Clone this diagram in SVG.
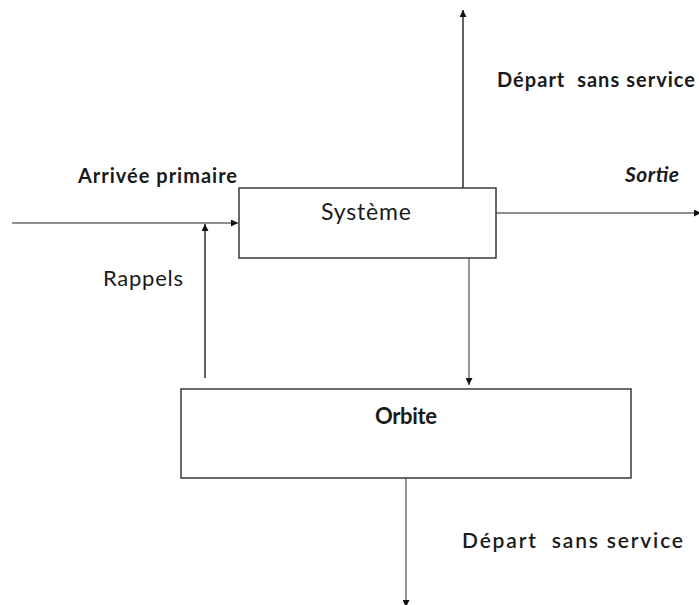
<svg xmlns="http://www.w3.org/2000/svg" width="699" height="605" viewBox="0 0 699 605">
<style>
.box{fill:#fff;stroke:#3a3a3a;stroke-width:1.5}
.ln{stroke:#3a3a3a;stroke-width:1.6;fill:none}
.lg{stroke:#6a6a6a;stroke-width:1.4;fill:none}
.t{font-family:Lato,"Open Sans","Noto Sans",sans-serif;fill:#1a1a1a}
.b{font-weight:bold}
</style>
<defs>
<marker id="ah" viewBox="0 0 10 10" refX="10" refY="5" markerWidth="7" markerHeight="7" markerUnits="userSpaceOnUse" orient="auto">
<path d="M0,0 L10,5 L0,10 Z" fill="#111"/>
</marker>
</defs>
<rect width="699" height="605" fill="#fff"/>
<g id="connectors">
<line class="lg" x1="12" y1="223" x2="238" y2="223" marker-end="url(#ah)"/>
<line class="ln" x1="205" y1="378" x2="205" y2="224" marker-end="url(#ah)"/>
<line class="ln" x1="463" y1="188" x2="463" y2="10" marker-end="url(#ah)"/>
<line class="lg" x1="496" y1="213" x2="701" y2="213" marker-end="url(#ah)"/>
<line class="lg" x1="469" y1="258" x2="469" y2="385" marker-end="url(#ah)"/>
<line class="lg" x1="406" y1="478" x2="406" y2="607" marker-end="url(#ah)"/>
</g>
<g id="systeme">
<rect class="box" x="239" y="188" width="257" height="70"/>
<text class="t" x="366" y="220" font-size="23" text-anchor="middle" textLength="90">Système</text>
</g>
<g id="orbite">
<rect class="box" x="181" y="389" width="450" height="89"/>
<text class="t b" x="406" y="424" font-size="22" text-anchor="middle" textLength="62">Orbite</text>
</g>
<g id="labels">
<text class="t b" x="78" y="183" font-size="20" textLength="159">Arrivée primaire</text>
<text class="t" x="103" y="286" font-size="22" textLength="80">Rappels</text>
<text class="t b" x="497" y="87" font-size="20" textLength="198" xml:space="preserve">Départ  sans service</text>
<text class="t b" x="625" y="182" font-size="21" font-style="italic" textLength="54">Sortie</text>
<text class="t" x="462" y="548" font-size="21" font-weight="600" textLength="221" xml:space="preserve">Départ  sans service</text>
</g>
</svg>
